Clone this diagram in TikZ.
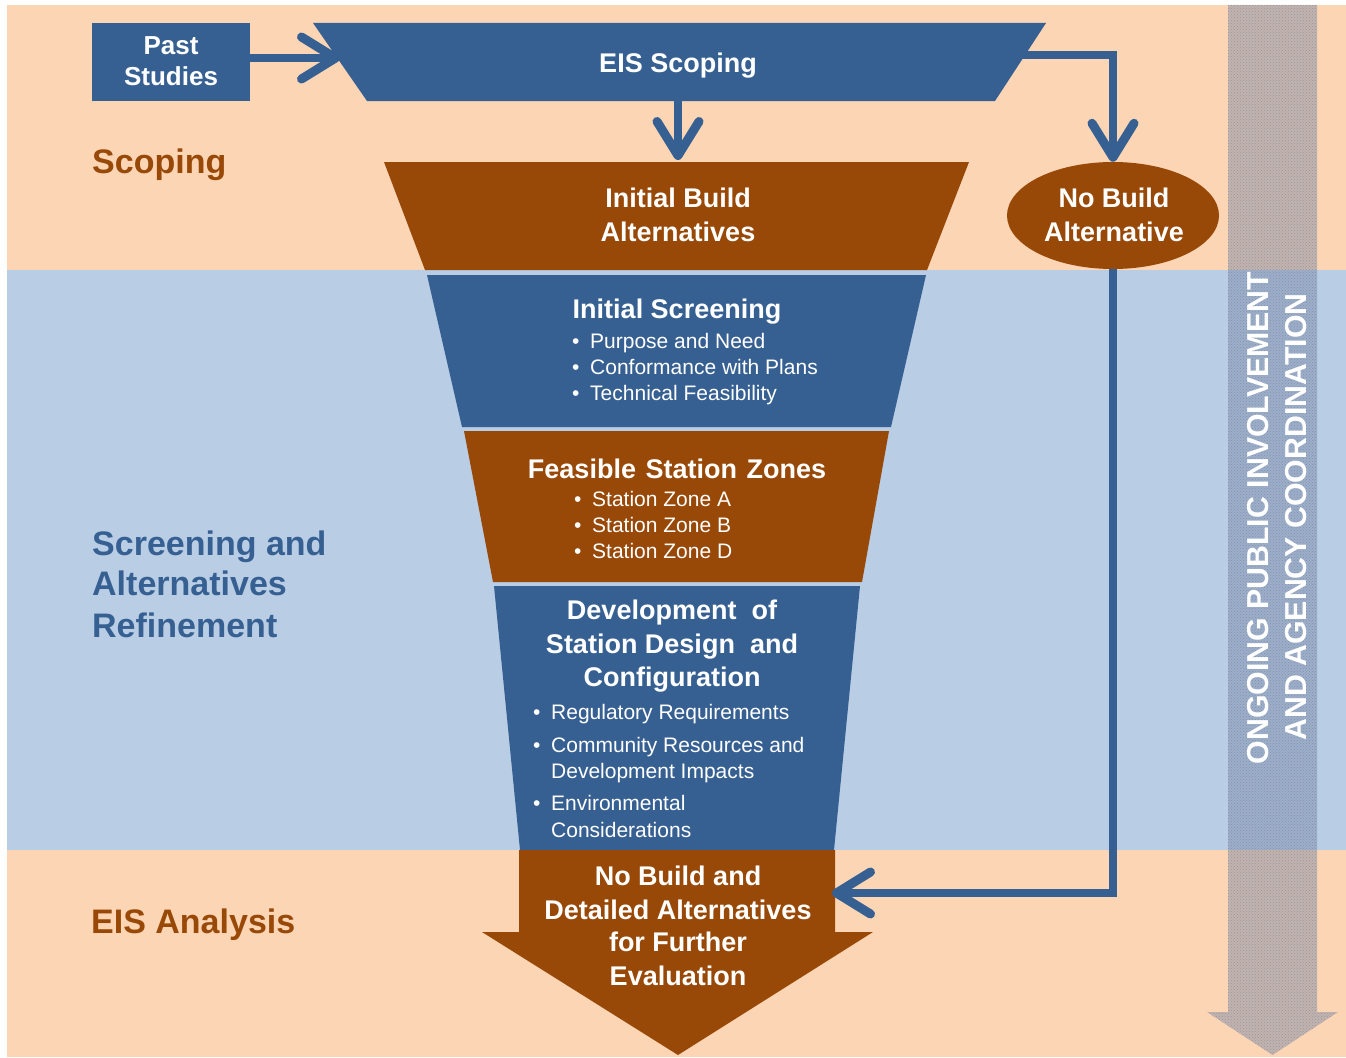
\documentclass[tikz,border=0pt]{standalone}
\usepackage{fontspec}
\setmainfont{Liberation Sans}
\usetikzlibrary{arrows.meta,patterns,shapes.geometric}
\definecolor{peach}{HTML}{FCD5B5}
\definecolor{bandblue}{HTML}{B9CDE5}
\definecolor{dblue}{HTML}{376092}
\definecolor{brn}{HTML}{984807}
\definecolor{grayarrow}{HTML}{7A8AA8}
\begin{document}
\begin{tikzpicture}[x=1pt,y=-1pt,
  ttl/.style={text=white,font=\fontsize{27}{34}\selectfont\bfseries,inner sep=0pt,anchor=base},
  sttl/.style={text=white,font=\fontsize{26}{30}\selectfont\bfseries,inner sep=0pt,anchor=base},
  bul/.style={text=white,font=\fontsize{21}{26}\selectfont,inner sep=0pt,anchor=base west},
  lbl/.style={font=\fontsize{34}{41}\selectfont\bfseries,inner sep=0pt,anchor=base west},
  vtxt/.style={text=white,font=\fontsize{30.3}{30}\selectfont\bfseries,inner sep=0pt,rotate=90},
  conn/.style={draw=dblue,line width=7.5pt,-{Straight Barb[length=34pt,width=42pt,line width=9pt,round]}},
  bluefill/.style={fill=dblue},
  brownfill/.style={fill=brn}]
\useasboundingbox (0,0) rectangle (1346,1057);
\fill[white] (0,0) rectangle (1346,1057);
% bands
\fill[peach] (7,5) rectangle (1346,270);
\fill[bandblue] (7,270) rectangle (1346,850);
\fill[peach] (7,850) rectangle (1346,1057);

% ongoing arrow
\path[fill=grayarrow,fill opacity=0.45]
  (1228,5) -- (1317,5) -- (1317,1012) -- (1338,1012) -- (1272.5,1055) -- (1207,1012) -- (1228,1012) -- cycle;
\path[pattern=crosshatch dots,pattern color=grayarrow!70!black,opacity=0.35]
  (1228,5) -- (1317,5) -- (1317,1012) -- (1338,1012) -- (1272.5,1055) -- (1207,1012) -- (1228,1012) -- cycle;
\node[vtxt] (og1) at (1258,518) {ONGOING PUBLIC INVOLVEMENT};
\node[vtxt] (og2) at (1296,517) {AND AGENCY COORDINATION};

% left labels
\node[lbl,text=brn] (lsc) at (92,173) {Scoping};
\node[lbl,text=dblue] (lsa1) at (92,555) {Screening and};
\node[lbl,text=dblue] (lsa2) at (92,595) {Alternatives};
\node[lbl,text=dblue] (lsa3) at (92,637) {Refinement};
\node[lbl,text=brn] (lea) at (91,933) {EIS Analysis};

% past studies
\node[bluefill,minimum width=158pt,minimum height=78pt,inner sep=0pt,anchor=north west] (past) at (92,23) {};
\node[sttl] (past1) at (171,55) {Past};
\node[sttl] (past2) at (171,85) {Studies};

% EIS scoping
\fill[dblue] (313,23) -- (1046,23) -- (995,101) -- (367,101) -- cycle;
\node[ttl] (eist) at (678,72) {EIS Scoping};
\coordinate (eisL) at (340,58);
\coordinate (eisR) at (1015,55);
\coordinate (eisB) at (678,101);
\coordinate (pastE) at (250,58);

% initial build
\fill[brn] (384,162) -- (969,162) -- (927,270) -- (425,270) -- cycle;
\coordinate (ibT) at (678,160);
\node[ttl] (ib1) at (678,207) {Initial Build};
\node[ttl] (ib2) at (678,241) {Alternatives};

% no build
\node[ellipse,fill=brn,minimum width=212pt,minimum height=107pt,inner sep=0pt] (nb) at (1113,215.5) {};
\node[ttl] (nb1) at (1114,207) {No Build};
\node[ttl] (nb2) at (1114,241) {Alternative};

% initial screening
\fill[dblue] (427,275) -- (926,275) -- (891,427) -- (462,427) -- cycle;
\node[ttl] (is0) at (677,318) {Initial Screening};
\node[bul] (is1) at (572,348) {\makebox[18pt][l]{•}Purpose and Need};
\node[bul] (is2) at (572,374) {\makebox[18pt][l]{•}Conformance with Plans};
\node[bul] (is3) at (572,400) {\makebox[18pt][l]{•}Technical Feasibility};

% feasible station zones
\fill[brn] (464,431) -- (889,431) -- (862,582) -- (493,582) -- cycle;
\node[ttl] (fs0) at (677,478) {Feasible\ \hspace{2pt}Station\ \hspace{2pt}Zones};
\node[bul] (fs1) at (574,506) {\makebox[18pt][l]{•}Station Zone A};
\node[bul] (fs2) at (574,532) {\makebox[18pt][l]{•}Station Zone B};
\node[bul] (fs3) at (574,558) {\makebox[18pt][l]{•}Station Zone D};

% development
\fill[dblue] (494,586) -- (860,586) -- (834,850) -- (520,850) -- cycle;
\node[ttl] (dv0) at (672,619) {Development\ \ of};
\node[ttl] (dv1) at (672,653) {Station Design\ \ and};
\node[ttl] (dv2) at (672,686) {Configuration};
\node[bul] (dv3) at (533,719) {\makebox[18pt][l]{•}Regulatory Requirements};
\node[bul] (dv4) at (533,752) {\makebox[18pt][l]{•}Community Resources and};
\node[bul] (dv5) at (551,778) {Development Impacts};
\node[bul] (dv6) at (533,810) {\makebox[18pt][l]{•}Environmental};
\node[bul] (dv7) at (551,837) {Considerations};

% final arrow
\fill[brn] (519,850) -- (835,850) -- (835,932) -- (873,932) -- (678,1055) -- (482,932) -- (519,932) -- cycle;
\coordinate (finR) at (832,893);
\node[ttl] (fn1) at (678,885) {No Build and};
\node[ttl] (fn2) at (678,919) {Detailed Alternatives};
\node[ttl] (fn3) at (678,951) {for Further};
\node[ttl] (fn4) at (678,985) {Evaluation};

% connectors
\draw[conn] (pastE) -- (eisL);
\draw[conn] (eisB) -- (ibT);
\draw[conn] (eisR) -| (nb.north);
\draw[conn] (nb.south) |- (finR);
\end{tikzpicture}
\end{document}
